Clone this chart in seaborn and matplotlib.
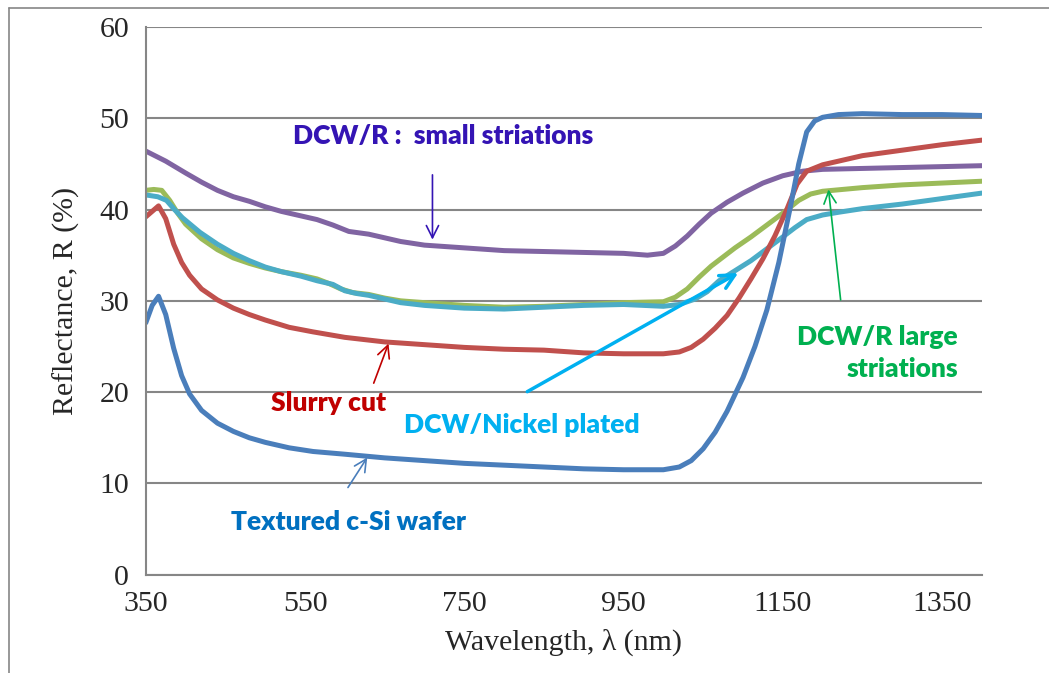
import numpy as np
import pandas as pd
import matplotlib
matplotlib.use("Agg")
import matplotlib.pyplot as plt
import matplotlib.lines as mlines
import seaborn as sns

## readings (wavelength nm, reflectance %)
tex_x = [350, 358, 366, 375, 385, 395, 405, 420, 440, 460, 480, 500, 530, 560, 600, 650, 700, 750, 800, 850, 900, 950,
         1000, 1020, 1035, 1050, 1065, 1080, 1100, 1115, 1130, 1145, 1160, 1170, 1180, 1190, 1200, 1220, 1250, 1300, 1350, 1400]
tex_y = [27.6, 29.5, 30.5, 28.5, 24.8, 21.8, 19.8, 18.0, 16.6, 15.7, 15.0, 14.5, 13.9, 13.5, 13.2, 12.8, 12.5, 12.2, 12.0, 11.8, 11.6, 11.5,
         11.5, 11.8, 12.5, 13.8, 15.6, 17.9, 21.6, 25.0, 29.0, 34.2, 40.5, 45.0, 48.5, 49.7, 50.1, 50.4, 50.5, 50.4, 50.4, 50.3]

slurry_x = [350, 358, 366, 375, 385, 395, 405, 420, 440, 460, 480, 500, 530, 560, 600, 650, 700, 750, 800, 850, 900, 950,
            1000, 1020, 1035, 1050, 1065, 1080, 1095, 1110, 1125, 1140, 1155, 1168, 1180, 1200, 1250, 1300, 1350, 1400]
slurry_y = [39.2, 39.8, 40.4, 39.0, 36.2, 34.2, 32.8, 31.3, 30.1, 29.2, 28.5, 27.9, 27.1, 26.6, 26.0, 25.5, 25.2, 24.9, 24.7, 24.6, 24.3, 24.2,
            24.2, 24.4, 24.9, 25.8, 27.0, 28.4, 30.3, 32.4, 34.6, 37.1, 40.0, 42.8, 44.2, 44.9, 45.9, 46.5, 47.1, 47.6]

small_x = [350, 375, 400, 420, 440, 460, 480, 500, 520, 545, 565, 585, 605, 630, 650, 670, 700, 750, 800, 850, 900, 950,
           980, 1000, 1015, 1030, 1045, 1060, 1080, 1100, 1125, 1150, 1175, 1200, 1250, 1300, 1350, 1400]
small_y = [46.4, 45.3, 44.0, 43.0, 42.1, 41.4, 40.9, 40.3, 39.8, 39.3, 38.9, 38.3, 37.6, 37.3, 36.9, 36.5, 36.1, 35.8, 35.5, 35.4, 35.3, 35.2,
           35.0, 35.2, 36.0, 37.1, 38.4, 39.6, 40.8, 41.8, 42.9, 43.7, 44.2, 44.4, 44.5, 44.6, 44.7, 44.8]

large_x = [350, 360, 370, 380, 390, 400, 420, 440, 460, 480, 500, 520, 545, 565, 580, 595, 610, 630, 650, 670, 700, 750, 800,
           850, 900, 950, 1000, 1015, 1030, 1045, 1060, 1075, 1090, 1110, 1130, 1150, 1170, 1185, 1200, 1250, 1300, 1350, 1400]
large_y = [42.1, 42.2, 42.1, 41.0, 39.6, 38.4, 36.8, 35.6, 34.7, 34.1, 33.6, 33.2, 32.8, 32.4, 31.9, 31.3, 30.9, 30.7, 30.3, 30.0, 29.8, 29.5, 29.3,
           29.4, 29.6, 29.8, 29.9, 30.4, 31.3, 32.6, 33.8, 34.8, 35.8, 37.0, 38.3, 39.6, 41.0, 41.7, 42.0, 42.4, 42.7, 42.9, 43.1]

nickel_x = [350, 365, 376, 386, 396, 407, 418, 440, 460, 480, 500, 520, 545, 565, 585, 600, 615, 630, 650, 670, 700, 750, 800,
            850, 900, 950, 1000, 1020, 1040, 1055, 1070, 1090, 1110, 1130, 1150, 1165, 1180, 1200, 1220, 1250, 1300, 1350, 1400]
nickel_y = [41.6, 41.4, 41.0, 40.0, 39.1, 38.3, 37.5, 36.2, 35.2, 34.4, 33.7, 33.2, 32.7, 32.2, 31.8, 31.1, 30.8, 30.6, 30.2, 29.8, 29.5, 29.2, 29.1,
            29.3, 29.5, 29.6, 29.4, 29.6, 30.2, 31.0, 32.2, 33.3, 34.4, 35.7, 37.0, 38.0, 38.9, 39.4, 39.7, 40.1, 40.6, 41.2, 41.8]

series = ["small", "large", "nickel", "slurry", "textured"]
colors = {"small": "#8064a2", "large": "#9bbb59", "nickel": "#4bacc6",
          "slurry": "#c0504d", "textured": "#4a7ebb"}

df = pd.concat([
    pd.DataFrame({"wl": small_x, "R": small_y, "s": "small"}),
    pd.DataFrame({"wl": large_x, "R": large_y, "s": "large"}),
    pd.DataFrame({"wl": nickel_x, "R": nickel_y, "s": "nickel"}),
    pd.DataFrame({"wl": slurry_x, "R": slurry_y, "s": "slurry"}),
    pd.DataFrame({"wl": tex_x, "R": tex_y, "s": "textured"}),
], ignore_index=True)

sns.set_style("white")
plt.rcParams['font.family'] = ['Liberation Serif', 'DejaVu Serif']

fig, ax = plt.subplots(figsize=(10.49, 6.73), dpi=100)
fig.subplots_adjust(left=0.139, right=0.936, top=0.960, bottom=0.146)

for s in series:
    sns.lineplot(data=df[df.s == s], x="wl", y="R", color=colors[s], lw=3.6,
                 estimator=None, sort=False, ax=ax, legend=False,
                 solid_capstyle="round")

ax.set_xlim(350, 1400)
ax.set_ylim(0, 60)
ax.set_xticks(range(350, 1351, 200))
ax.set_yticks(range(0, 61, 10))
ax.yaxis.grid(True, color="#868686", lw=1.5)
ax.set_axisbelow(True)
for sp in ["top", "right"]:
    ax.spines[sp].set_visible(False)
for sp in ["left", "bottom"]:
    ax.spines[sp].set_color("#868686")
    ax.spines[sp].set_linewidth(1.5)
ax.tick_params(axis="both", direction="out", length=7, width=1.5, color="#868686",
               labelsize=21.5, pad=5)
ax.set_xlabel("Wavelength, λ (nm)", fontsize=21.5, labelpad=8)
ax.set_ylabel("Reflectance, R (%)", fontsize=21.5, labelpad=14)

# annotations
lab = dict(family=["Lato", "DejaVu Sans"], fontweight="heavy", fontsize=19)
ax.annotate("DCW/R :  small striations", xy=(723, 48.0), ha="center", va="center", color="#3414b4", **lab)
ax.annotate("", xy=(710, 36.4), xytext=(710, 44.1),
            arrowprops=dict(arrowstyle="->", color="#3414b4", lw=1.2, mutation_scale=22))
ax.annotate("Slurry cut", xy=(580, 18.8), ha="center", va="center", color="#c00000", **lab)
ax.annotate("", xy=(656, 25.6), xytext=(635, 20.7),
            arrowprops=dict(arrowstyle="->", color="#c00000", lw=1.2, mutation_scale=22))
ax.annotate("DCW/Nickel plated", xy=(822, 16.4), ha="center", va="center", color="#00b0f0", **lab)
ax.annotate("", xy=(1097, 33.2), xytext=(826, 19.9),
            arrowprops=dict(arrowstyle="->", color="#00b0f0", lw=2.5, mutation_scale=26))
ax.annotate("Textured c-Si wafer", xy=(605, 5.8), ha="center", va="center", color="#0070c0", **lab)
ax.annotate("", xy=(630, 13.1), xytext=(602, 9.3),
            arrowprops=dict(arrowstyle="->", color="#4a7ebb", lw=1.2, mutation_scale=22))
ax.annotate("DCW/R large\nstriations", xy=(1370, 24.3), ha="right", va="center", color="#00b050",
            linespacing=1.4, **lab)
ax.annotate("", xy=(1207, 42.5), xytext=(1223, 29.8),
            arrowprops=dict(arrowstyle="->", color="#00b050", lw=1.2, mutation_scale=22))

# chart-area border (left and top edges visible in the reference)
fig.add_artist(mlines.Line2D([9/1049, 9/1049], [0, 1-8/673], color="#868686", lw=1.2))
fig.add_artist(mlines.Line2D([9/1049, 1], [1-8/673, 1-8/673], color="#868686", lw=1.2))

fig.savefig("out.png", dpi=100)
